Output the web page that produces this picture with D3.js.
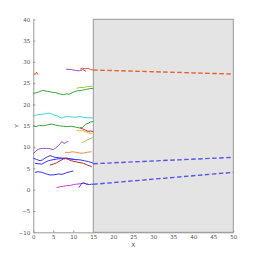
<!doctype html>
<html>
<head>
    <meta charset="UTF-8">
    <title>tracks</title>
    <script src="https://d3js.org/d3.v7.min.js"></script>
    <style>
        body { margin: 0; background: #fff; }
        .axis text { font-family: "DejaVu Sans", sans-serif; font-size: 5.5px; fill: #555; }
        .axis path, .axis line { stroke: #999; }
    </style>
</head>
<body>
    <svg id="chart" width="258" height="261"></svg>

    <script>
        // tick values
        var xTicks = [0, 5, 10, 15, 20, 25, 30, 35, 40, 45, 50];
        var yTicks = [-10, -5, 0, 5, 10, 15, 20, 25, 30, 35, 40];
        var shadeFrom = 15;

        // observed tracks, [x, y]
        var orangeBlob = [[0.1,26.9],[0.4,27.3],[0.6,27.1],[0.8,27.6],[1.0,27.3],[1.2,27.0]];
        var cyanDot = [[0,20.1],[0.15,19.7]];
        var purpleTop = [[8.2,28.3],[9.5,28.2],[10.5,28.0],[11.5,27.9],[12.4,28.2],[13.2,27.8]];
        var orangeTop = [[11.7,28.3],[12.3,28.5],[13,28.4],[13.7,28.5],[14.3,28.2],[15,28.1]];
        var greenA = [[0,22.6],[1,22.8],[2,23.2],[2.5,23.3],[3.5,23.1],[4.5,22.9],[5.5,22.8],[6.5,22.5],[7.5,22.3],[8.3,22.5],[9,22.4],[10,22.9],[11,23.2],[12,23.3],[13,23.5],[14,23.7],[15,23.8]];
        var limeA = [[10.8,23.8],[11.5,24.0],[12.5,24.0],[13.5,24.2],[14.8,24.3]];
        var cyanA = [[0,17.3],[1,17.6],[2,17.7],[3,17.8],[4,18.0],[5,17.6],[6,17.3],[7,16.8],[7.5,17.0],[8.5,17.2],[9.5,17.1],[10.5,17.0],[11.5,17.2],[12.5,17.0],[13.5,16.9],[15,16.8]];
        var greenB = [[0,15.0],[0.7,14.8],[1.5,15.1],[2.5,15.0],[3.5,15.2],[4.5,15.4],[5.5,15.2],[6.5,15.0],[7.5,14.9],[8.5,14.8],[9.5,14.9],[10.5,14.7],[11.5,14.5],[12.3,14.6],[13,15.3],[13.7,15.6],[14.3,15.9],[15,16.0]];
        var yellowA = [[10.8,14.0],[11.5,13.8],[12.3,13.9],[13,13.6],[13.7,13.4],[14.6,13.2]];
        var crimsonA = [[11.7,14.5],[12.3,14.3],[13,14.0],[13.7,13.7],[14.4,13.8],[15,13.6]];
        var limeB = [[12.1,11.0],[12.8,11.3],[13.5,11.7],[14.2,12.0],[14.8,12.2]];
        var purpleB = [[0,8.5],[0.6,9.0],[1.25,9.5],[2.2,9.7],[3.3,9.7],[4.2,9.6],[5,9.4],[5.6,9.8],[6.25,10.3],[6.8,10.9],[7.1,11.3],[7.5,11.0],[7.9,10.9],[8.3,11.2],[8.75,11.3]];
        var salmonA = [[7.9,8.8],[8.8,8.7],[9.7,8.9],[10.6,8.8],[11.7,8.6],[12.6,8.6],[13.5,8.8],[14.6,8.9]];
        var blueA = [[0,7.4],[0.8,7.1],[1.7,6.8],[2.3,7.0],[2.9,7.4],[3.5,7.7],[4.2,8.0],[4.8,7.8],[5.4,7.6],[6.5,7.5],[7.5,7.4],[8.3,7.4],[9.3,7.2],[10.5,7.1],[11.7,7.0],[12.8,6.8],[13.8,6.6],[15,6.2]];
        var blueB = [[0.4,6.2],[1.2,6.1],[2.1,6.0],[2.9,6.4],[3.75,6.8],[4.7,7.0],[5.8,7.2],[7,7.3],[8.3,7.4],[9.5,7.2],[10.8,7.0]];
        var brownA = [[4.2,5.8],[5,6.0],[5.8,6.3],[6.7,6.8],[7.5,7.2],[8.1,7.3],[8.75,7.1],[9.5,6.8],[10.4,6.6],[11.4,6.4],[12.5,6.2],[13.5,5.8],[14.6,5.4]];
        var blueC = [[0.4,4.1],[1.2,4.2],[2.1,4.1],[2.9,3.8],[3.6,3.6],[4.2,3.45],[5.2,3.5],[6.25,3.7],[7.2,3.6],[8.3,4.0],[9.2,4.2],[10,4.4]];
        var magentaA = [[5.8,0.5],[6.8,0.7],[7.6,0.8],[8.3,0.95],[9.2,1.0],[10,1.2],[10.8,1.3],[11.7,1.4],[12.5,1.5],[13.1,1.4],[13.75,1.3]];
        var blueD = [[11.4,0.5],[11.7,0.9],[12.1,1.5],[12.7,1.6],[13.3,1.3],[14,1.2],[14.6,1.3],[15,1.27]];

        // extrapolated tracks
        var orangeFit = [[15,28.1],[50,27.15]];
        var blueFitA = [[15,6.1],[50,7.6]];
        var blueFitB = [[15,1.27],[50,4.08]];

        var tracks = [orangeBlob, cyanDot, purpleTop, orangeTop, greenA, limeA, cyanA, greenB,
                      yellowA, crimsonA, limeB, purpleB, salmonA, blueA, blueB, brownA, blueC, magentaA, blueD];
        var trackColors = ["#e8562a", "#4aa0e8", "#9a4fb8", "#e8562a", "#3ca33c", "#9ccc3c", "#3ed6dc", "#3ca33c",
                           "#f0b431", "#c8283c", "#9ccc3c", "#9a4fb8", "#ee8a55", "#3434f4", "#3434f4", "#b02c2c", "#3434f4", "#cc3ccc", "#3434f4"];
        var fits = [orangeFit, blueFitA, blueFitB];
        var fitColors = ["#e8602c", "#5555f0", "#5555f0"];

        var svg = d3.select("#chart");

        var x = d3.scaleLinear().domain([0, 50]).range([33.3, 233.3]);
        var y = d3.scaleLinear().domain([-10, 40]).range([232.3, 19.3]);

        svg.append("g")
           .attr("class", "axis")
           .attr("transform", "translate(0," + y(-10) + ")")
           .call(d3.axisBottom(x).tickValues(xTicks).tickSizeInner(-2).tickSizeOuter(0).tickPadding(3));

        svg.append("g")
           .attr("class", "axis")
           .attr("transform", "translate(" + x(0) + ",0)")
           .call(d3.axisLeft(y).tickValues(yTicks).tickSizeInner(-2).tickSizeOuter(0).tickPadding(3));

        // shaded prediction region
        svg.append("rect")
           .attr("x", x(shadeFrom))
           .attr("y", y(40))
           .attr("width", x(50) - x(shadeFrom))
           .attr("height", y(-10) - y(40))
           .attr("fill", "#e4e4e4")
           .attr("stroke", "#999")
           .attr("stroke-width", 1);

        svg.append("text")
           .attr("x", (x(0) + x(50)) / 2)
           .attr("y", 247)
           .attr("text-anchor", "middle")
           .style("font-family", "DejaVu Sans, sans-serif")
           .style("font-size", "6px")
           .style("fill", "#555")
           .text("X");

        svg.append("text")
           .attr("transform", "translate(19," + y(15) + ") rotate(-90)")
           .attr("text-anchor", "middle")
           .style("font-family", "DejaVu Sans, sans-serif")
           .style("font-size", "6px")
           .style("fill", "#555")
           .text("Y");

        var line = d3.line()
            .x(function(d){ return x(d[0]); })
            .y(function(d){ return y(d[1]); });

        svg.selectAll("path.track")
           .data(tracks)
           .enter()
           .append("path")
           .attr("class", "track")
           .attr("d", line)
           .attr("fill", "none")
           .attr("stroke", function(d, i){ return trackColors[i]; })
           .attr("stroke-width", 1);

        svg.selectAll("path.fit")
           .data(fits)
           .enter()
           .append("path")
           .attr("class", "fit")
           .attr("d", line)
           .attr("fill", "none")
           .attr("stroke", function(d, i){ return fitColors[i]; })
           .attr("stroke-width", 1.4)
           .attr("stroke-dasharray", "4.5,2.5");
    </script>
</body>
</html>
